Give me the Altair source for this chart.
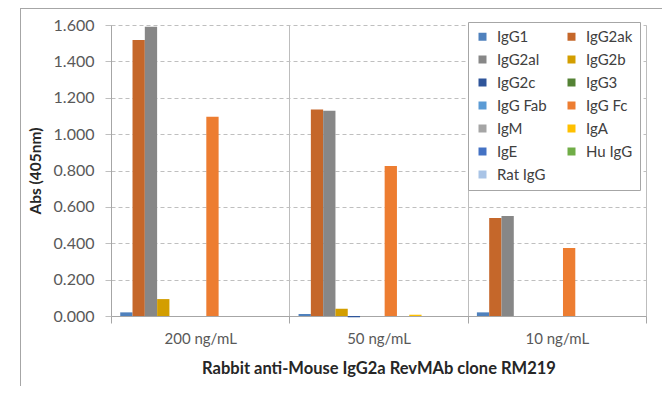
import altair as alt
import pandas as pd

groups = ["200 ng/mL", "50 ng/mL", "10 ng/mL"]
series = ["IgG1", "IgG2ak", "IgG2al", "IgG2b", "IgG2c", "IgG3", "IgG Fab",
          "IgG Fc", "IgM", "IgA", "IgE", "Hu IgG", "Rat IgG"]
colors = ["#4F81BD", "#C5672A", "#878787", "#D39E00", "#2F559A", "#548235",
          "#5B9BD5", "#ED7D31", "#A5A5A5", "#FFC000", "#4472C4", "#70AD47", "#A9C4E6"]

v200 = [0.020, 1.517, 1.590, 0.093, 0.0, 0.0, 0.0, 1.096, 0.0, 0.0, 0.0, 0.0, 0.0]
v50 = [0.011, 1.136, 1.129, 0.040, -0.007, 0.0, 0.0, 0.825, 0.0, 0.007, 0.0, 0.0, 0.0]
v10 = [0.020, 0.539, 0.550, 0.0, 0.0, 0.0, 0.0, 0.374, 0.0, 0.0, 0.0, 0.0, 0.0]

rows = []
for g, vals in zip(groups, [v200, v50, v10]):
    for s, v in zip(series, vals):
        rows.append({"group": g, "series": s, "value": v})
df = pd.DataFrame(rows)

FONT = "Lato"
W, H = 535, 291

frame_left = alt.Chart(df).mark_rule(color="#A6A6A6", strokeWidth=1).encode(
    x=alt.value(-90.5), y=alt.value(-16.5), y2=alt.value(400)
)
frame_top = alt.Chart(df).mark_rule(color="#A6A6A6", strokeWidth=1).encode(
    x=alt.value(-90.5), x2=alt.value(700), y=alt.value(-16.5)
)

bars = alt.Chart(df).mark_bar().encode(
    x=alt.X("group:N", sort=groups,
            scale=alt.Scale(paddingInner=0, paddingOuter=0),
            axis=alt.Axis(title="Rabbit anti-Mouse  IgG2a RevMAb clone RM219",
                          labelAngle=0, tickBand="extent", grid=True,
                          gridColor="#A6A6A6", gridDash=[1, 0], tickColor="#A6A6A6",
                          domainColor="#A6A6A6", tickSize=7, labelPadding=8,
                          labelFontSize=15, titleFontSize=16.5, titlePadding=14)),
    xOffset=alt.XOffset("series:N", sort=series,
                        scale=alt.Scale(paddingInner=0, paddingOuter=0.75)),
    y=alt.Y("value:Q", scale=alt.Scale(domain=[0, 1.6], nice=False),
            axis=alt.Axis(title="Abs (405nm)", values=[0, 0.2, 0.4, 0.6, 0.8, 1.0, 1.2, 1.4, 1.6],
                          format=".3f", grid=True, gridColor="#BFBFBF", gridDash=[4, 3],
                          tickColor="#BFBFBF", tickSize=6, domainColor="#A6A6A6",
                          labelFontSize=16, labelPadding=11, titleFontSize=15.5,
                          titlePadding=10)),
    color=alt.Color("series:N", sort=series,
                    scale=alt.Scale(domain=series, range=colors),
                    legend=alt.Legend(title=None, orient="none", legendX=357, legendY=-3,
                                      direction="horizontal",
                                      columns=2, symbolType="square", symbolSize=64,
                                      symbolStrokeWidth=0, labelFontSize=15, labelFont=FONT,
                                      labelColor="#404040", labelOffset=7,
                                      rowPadding=7, columnPadding=17, padding=7,
                                      strokeColor="#A6A6A6", fillColor="white")),
)

chart = alt.layer(frame_left, frame_top, bars).properties(
    width=W, height=H,
    background="white",
    autosize=alt.AutoSizeParams(type="none"),
    padding={"left": 103, "top": 17, "right": 16, "bottom": 70},
).configure_view(stroke=None).configure_axis(
    labelFont=FONT, labelColor="#595959",
    titleFont=FONT, titleColor="#262626", titleFontWeight="bold",
)

chart.save("out.html", embed_options={"renderer": "svg", "actions": False})
